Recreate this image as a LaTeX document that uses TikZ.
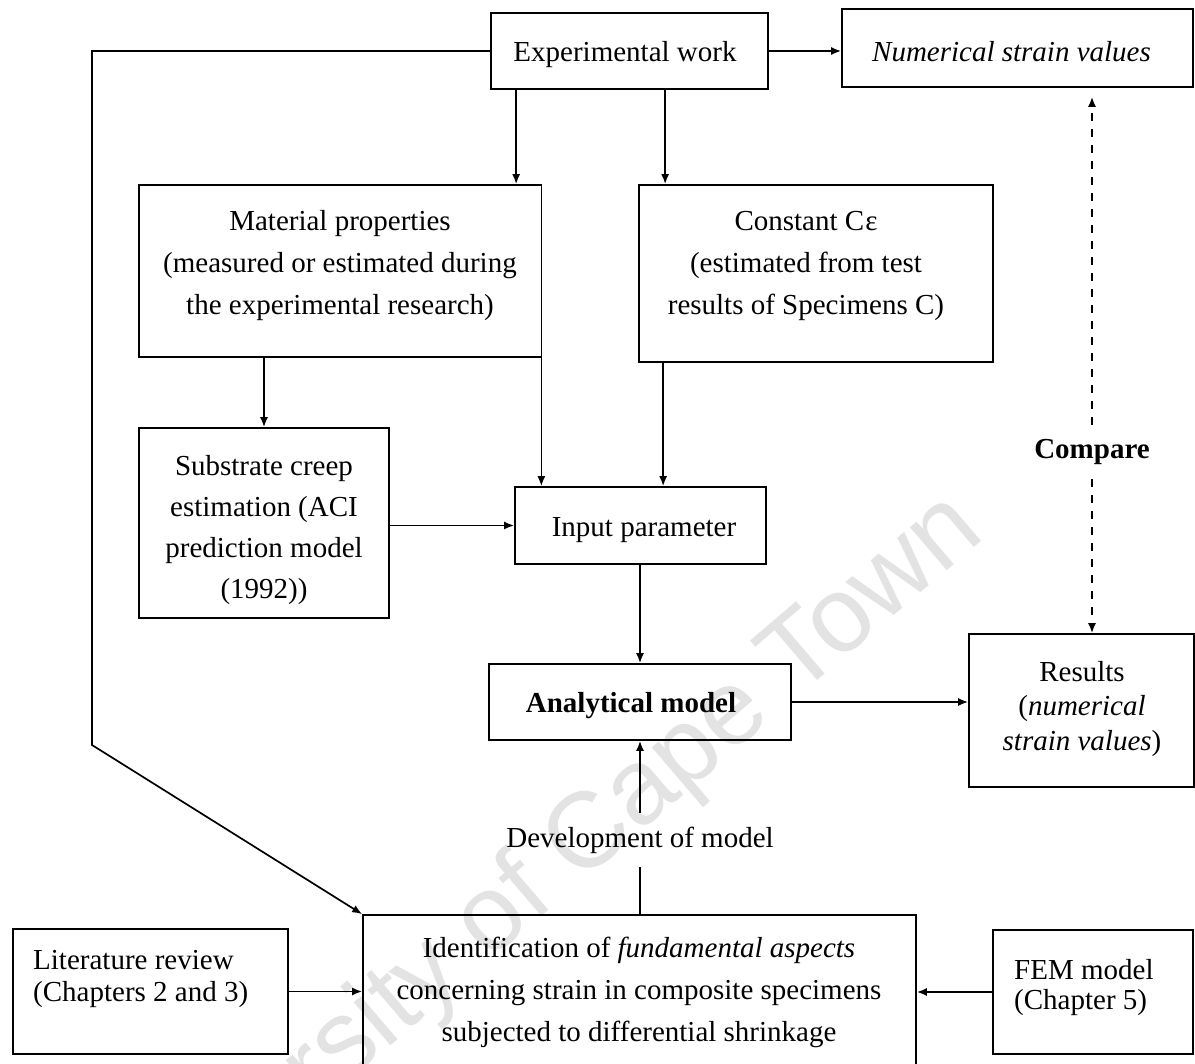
\documentclass[tikz,border=0pt]{standalone}
\usepackage{fontspec}
\setmainfont{Liberation Serif}
\newfontfamily\wmfont{Liberation Sans}
\usetikzlibrary{arrows.meta}
\begin{document}
\begin{tikzpicture}[x=1pt,y=-1pt,
  box/.style={draw, line width=1.7pt, rectangle, inner sep=0pt},
  txt/.style={inner sep=0pt, align=center, font=\fontsize{29}{42}\selectfont},
  link/.style={line width=1.7pt, -{Latex[length=10pt,width=8pt]}},
  cmpline/.style={line width=1.7pt, dash pattern=on 8pt off 8pt, -{Latex[length=10pt,width=8pt]}},
]
\useasboundingbox (0,0) rectangle (1195,1064);
\clip (0,0) rectangle (1195,1064);
\fill[white] (0,0) rectangle (1195,1064);

% watermark
\node[inner sep=0pt, text=black!11, font=\wmfont\fontsize{107}{107}\selectfont, rotate=40.5]
  (wm) at (530,890) {University of Cape Town};

% boxes
\node[box, minimum width=277pt, minimum height=76pt] (exp) at (629.5,51) {};
\node[box, minimum width=351pt, minimum height=78pt] (num) at (1017.5,48) {};
\node[box, minimum width=402.5pt, minimum height=172pt] (mat) at (340.25,271) {};
\node[box, minimum width=354pt, minimum height=177pt] (con) at (816,273.5) {};
\node[box, minimum width=250pt, minimum height=190pt] (sub) at (264,523) {};
\node[box, minimum width=251pt, minimum height=77pt] (inp) at (640.5,525.5) {};
\node[box, minimum width=302pt, minimum height=76pt] (ana) at (640,702) {};
\node[box, minimum width=225pt, minimum height=153pt] (res) at (1081.5,710.5) {};
\node[box, minimum width=553pt, minimum height=170pt] (ident) at (639.5,1000) {};
\node[box, minimum width=275.3pt, minimum height=125pt] (lit) at (150.35,991.5) {};
\node[box, minimum width=200pt, minimum height=124pt] (fem) at (1093,992) {};

% texts
\node[txt] (expT) at (625,55) {Experimental work};
\node[txt] (numT) at (1011.5,52) {\itshape Numerical strain values};
\node[txt] (matT) at (340,266) {Material properties\\(measured or estimated during\\the experimental research)};
\node[txt] (conT) at (806,266) {Constant C\kern1pt ε\\ (estimated from test\\results of Specimens C)};
\node[txt, font=\fontsize{29}{41.3}\selectfont] (subT) at (264,530) {Substrate creep\\estimation (ACI\\prediction model\\(1992))};
\node[txt] (inpT) at (644,530) {Input parameter};
\node[txt] (anaT) at (631,706) {\bfseries Analytical model};
\node[txt, font=\fontsize{29}{34.5}\selectfont] (resT) at (1082,709) {Results\\(\textit{numerical}\\\textit{strain values})};
\node[txt] (identT) at (639,992) {Identification of \textit{fundamental aspects}\\concerning strain in composite specimens\\subjected to differential shrinkage};
\node[txt, align=left, anchor=north west, font=\fontsize{29}{31.7}\selectfont] (litT) at (33,950) {Literature review\\(Chapters 2 and 3)};
\node[txt, align=left, anchor=north west, font=\fontsize{29}{30}\selectfont] (femT) at (1014,959) {FEM model\\(Chapter 5)};
\node[txt, minimum height=54pt] (dev) at (640,840) {Development of model};
\node[txt, minimum height=54pt] (cmp) at (1092,452) {\bfseries Compare};

% route of the long feedback line
\coordinate (lt) at (92,51);
\coordinate (lb) at (92,745);

% connectors
\draw[link] (exp.east) -- (exp.east -| num.west);
\draw[link] (exp.west) -- (lt) -- (lb) -- (ident.north west);
\draw[link] ([xshift=26pt]exp.south west) -- ([xshift=26pt]exp.south west |- mat.north);
\draw[link] ([xshift=175pt]exp.south west) -- ([xshift=175pt]exp.south west |- con.north);
\draw[link] (sub.north |- mat.south) -- (sub.north);
\draw[link] ([xshift=-1pt]mat.south east) -- ([xshift=-1pt]mat.south east |- inp.north);
\draw[link] ([xshift=25pt]con.south west) -- ([xshift=25pt]con.south west |- inp.north);
\draw[link] (sub.east |- inp.west) -- (inp.west);
\draw[link] (inp.south -| ana.north) -- (ana.north);
\draw[link] (ana.east) -- (ana.east -| res.west);
\draw[cmpline, shorten >=9pt] (cmp.north) -- (cmp.north |- num.south);
\draw[cmpline] (cmp.south) -- (cmp.south |- res.north);
\draw[link] (lit.east) -- (lit.east -| ident.west);
\draw[link] (fem.west) -- (fem.west -| ident.east);
\draw[line width=1.7pt] (dev.south |- ident.north) -- (dev.south);
\draw[link] (dev.north) -- (dev.north |- ana.south);
\end{tikzpicture}
\end{document}
